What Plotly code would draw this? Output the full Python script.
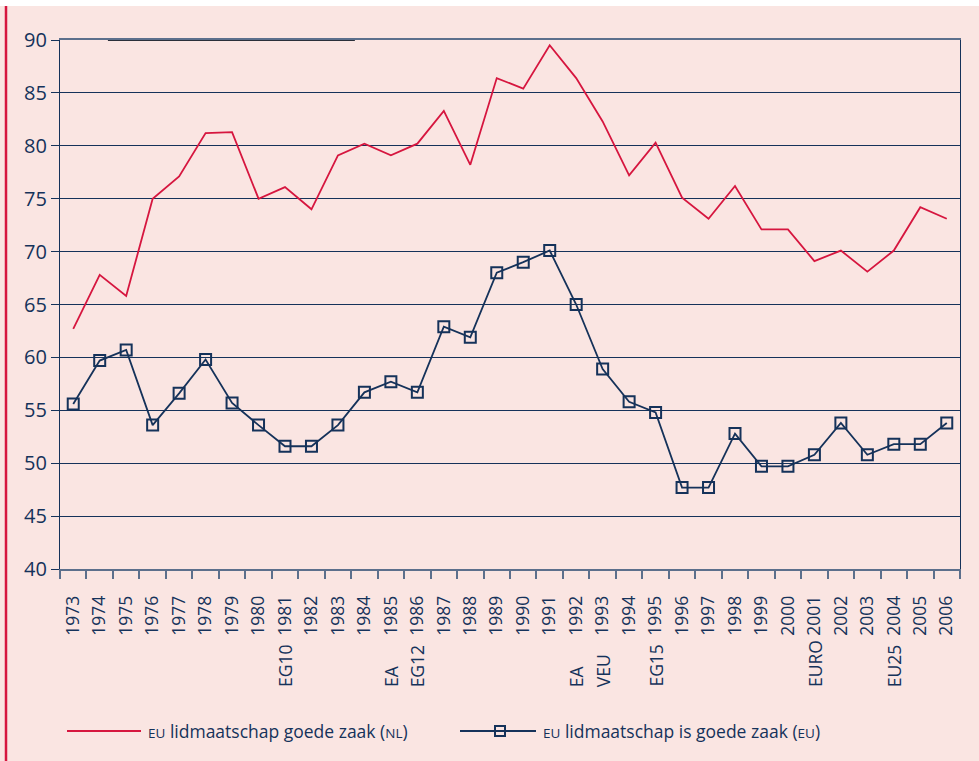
import plotly.graph_objects as go

years = [str(y) for y in range(1973, 2007)]
nl_values = [62.7, 67.8, 65.8, 75.0, 77.1, 81.2, 81.3, 75.0, 76.1, 74.0, 79.1, 80.2, 79.1, 80.2, 83.3, 78.2,
             86.4, 85.4, 89.5, 86.4, 82.3, 77.2, 80.3, 75.1, 73.1, 76.2, 72.1, 72.1, 69.1, 70.1, 68.1, 70.1,
             74.2, 73.1]
eu_values = [55.6, 59.7, 60.7, 53.6, 56.6, 59.8, 55.7, 53.6, 51.6, 51.6, 53.6, 56.7, 57.7, 56.7, 62.9, 61.9,
             68.0, 69.0, 70.1, 65.0, 58.9, 55.8, 54.8, 47.7, 47.7, 52.8, 49.7, 49.7, 50.8, 53.8, 50.8, 51.8,
             51.8, 53.8]
event_years = ["1981", "1985", "1986", "1992", "1993", "1995", "2001", "2004"]
event_labels = ["EG10", "EA", "EG12", "EA", "VEU", "EG15", "EURO", "EU25"]
y_ticks = [40, 45, 50, 55, 60, 65, 70, 75, 80, 85, 90]
legend_nl = "EU lidmaatschap goede zaak (NL)"
legend_eu = "EU lidmaatschap is goede zaak (EU)"

NAVY = "#15325a"
RED = "#d6163f"
PINK = "#fae5e2"
FONT = "Open Sans"

# plot area in pixels
L, R, T, B = 60, 960, 40, 569
W, H = 979, 761


def px_x(p):
    return (p - L) / (R - L)


def px_y(p):
    return (B - p) / (B - T)


def sc(s):
    return f"<span style='font-size:13.5px'>{s}</span>"


def legend_html(s):
    return s.replace("EU", sc("EU")).replace("NL", sc("NL"))


fig = go.Figure()
fig.add_trace(go.Scatter(
    x=years, y=nl_values, mode="lines",
    line=dict(color=RED, width=1.8),
    name=legend_nl,
))
fig.add_trace(go.Scatter(
    x=years, y=eu_values, mode="lines+markers",
    line=dict(color=NAVY, width=1.8),
    marker=dict(symbol="square-open", size=11, color=NAVY, line=dict(width=2, color=NAVY)),
    name=legend_eu,
))

for yr, lab in zip(event_years, event_labels):
    fig.add_annotation(
        x=years.index(yr), y=px_y(689), xref="x", yref="paper",
        text=lab, textangle=-90, showarrow=False,
        xanchor="center", yanchor="bottom",
        font=dict(family=FONT, size=17.5, color=NAVY),
    )

# manual legend
LY = px_y(731)
fig.add_shape(type="line", xref="paper", yref="paper", x0=px_x(67), x1=px_x(141), y0=LY, y1=LY,
              line=dict(color=RED, width=1.8))
fig.add_annotation(x=px_x(146), y=LY, xref="paper", yref="paper", text=legend_html(legend_nl),
                   showarrow=False, xanchor="left", yanchor="middle",
                   font=dict(family=FONT, size=17.5, color=NAVY))
fig.add_shape(type="line", xref="paper", yref="paper", x0=px_x(460), x1=px_x(536), y0=LY, y1=LY,
              line=dict(color=NAVY, width=1.8))
fig.add_shape(type="rect", xref="paper", yref="paper", x0=px_x(495), x1=px_x(505),
              y0=px_y(736), y1=px_y(726), line=dict(color=NAVY, width=2), fillcolor="rgba(0,0,0,0)")
fig.add_annotation(x=px_x(541), y=LY, xref="paper", yref="paper", text=legend_html(legend_eu),
                   showarrow=False, xanchor="left", yanchor="middle",
                   font=dict(family=FONT, size=17.5, color=NAVY))

# darker segment on top gridline
fig.add_shape(type="line", xref="x", yref="y", x0=1.31, x1=10.64, y0=90, y1=90,
              line=dict(color="#2a2f3a", width=1.8))
# white top strip and red left border
fig.add_shape(type="rect", xref="paper", yref="paper", x0=px_x(-5), x1=px_x(985),
              y0=px_y(6), y1=px_y(-5),
              fillcolor="white", line=dict(width=0), layer="above")
fig.add_shape(type="line", xref="paper", yref="paper", x0=px_x(6), x1=px_x(6),
              y0=px_y(6), y1=px_y(765),
              line=dict(color=RED, width=2.5))

fig.update_layout(
    width=W, height=H,
    margin=dict(l=L, r=W - R, t=T, b=H - B),
    paper_bgcolor=PINK, plot_bgcolor=PINK,
    font=dict(family=FONT, color=NAVY),
    showlegend=False,
)
fig.update_xaxes(
    type="category", tickangle=-90, tickson="boundaries",
    ticks="outside", ticklen=8, tickcolor="#5c6f8c", tickwidth=1.5,
    showline=True, linecolor="#5c6f8c", linewidth=1.5, mirror=True,
    showgrid=False, tickfont=dict(family=FONT, size=17.5, color=NAVY),
    ticklabelstandoff=18,
    range=[-0.5, len(years) - 0.5],
)
fig.update_yaxes(
    range=[40, 90], tickvals=y_ticks,
    ticks="outside", ticklen=8, tickcolor=NAVY,
    showline=True, linecolor=NAVY, linewidth=1.2, mirror=True,
    showgrid=True, gridcolor=NAVY, gridwidth=1.2,
    tickfont=dict(family=FONT, size=20, color=NAVY),
    zeroline=False,
)

fig.write_html("out.html", config={"displayModeBar": False},
               post_script="document.body.style.margin='0';document.body.style.padding='0';")
